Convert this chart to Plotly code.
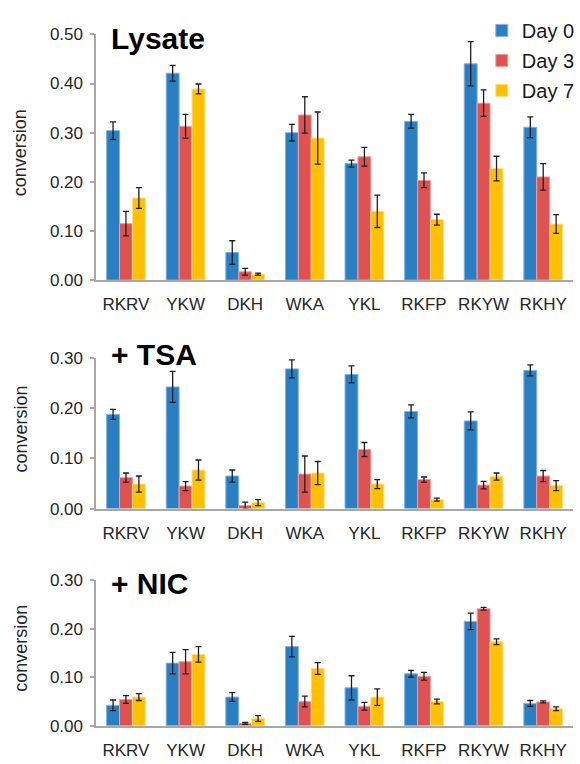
import plotly.graph_objects as go

categories = ["RKRV", "YKW", "DKH", "WKA", "YKL", "RKFP", "RKYW", "RKHY"]
days = ["Day 0", "Day 3", "Day 7"]
colors = ["#2a7ec2", "#e05252", "#ffc000"]
line_colors = ["#7fb6e3", "#f0a0a0", "#ffe080"]

# Lysate
lys_d0 = [0.304, 0.421, 0.056, 0.300, 0.237, 0.323, 0.440, 0.311]
lys_d0_err = [0.018, 0.016, 0.024, 0.017, 0.007, 0.014, 0.045, 0.021]
lys_d3 = [0.115, 0.313, 0.017, 0.336, 0.251, 0.203, 0.360, 0.210]
lys_d3_err = [0.025, 0.024, 0.007, 0.037, 0.019, 0.015, 0.027, 0.027]
lys_d7 = [0.167, 0.389, 0.012, 0.289, 0.140, 0.123, 0.227, 0.114]
lys_d7_err = [0.021, 0.010, 0.002, 0.053, 0.033, 0.011, 0.025, 0.019]

# + TSA
tsa_d0 = [0.188, 0.243, 0.065, 0.279, 0.268, 0.194, 0.175, 0.276]
tsa_d0_err = [0.010, 0.031, 0.012, 0.018, 0.017, 0.013, 0.018, 0.011]
tsa_d3 = [0.062, 0.045, 0.006, 0.069, 0.118, 0.058, 0.047, 0.065]
tsa_d3_err = [0.009, 0.009, 0.007, 0.036, 0.014, 0.005, 0.0075, 0.011]
tsa_d7 = [0.049, 0.077, 0.012, 0.071, 0.049, 0.018, 0.064, 0.046]
tsa_d7_err = [0.016, 0.020, 0.006, 0.023, 0.009, 0.003, 0.007, 0.010]

# + NIC
nic_d0 = [0.042, 0.129, 0.059, 0.163, 0.078, 0.107, 0.215, 0.046]
nic_d0_err = [0.011, 0.022, 0.009, 0.021, 0.025, 0.007, 0.017, 0.006]
nic_d3 = [0.054, 0.132, 0.005, 0.050, 0.040, 0.102, 0.241, 0.049]
nic_d3_err = [0.008, 0.025, 0.002, 0.011, 0.008, 0.008, 0.003, 0.002]
nic_d7 = [0.059, 0.147, 0.015, 0.118, 0.059, 0.050, 0.173, 0.035]
nic_d7_err = [0.007, 0.016, 0.006, 0.012, 0.017, 0.005, 0.006, 0.004]

panels = [
    ("Lysate", [lys_d0, lys_d3, lys_d7], [lys_d0_err, lys_d3_err, lys_d7_err], 0.5, [0, 0.1, 0.2, 0.3, 0.4, 0.5]),
    ("+ TSA", [tsa_d0, tsa_d3, tsa_d7], [tsa_d0_err, tsa_d3_err, tsa_d7_err], 0.3, [0, 0.1, 0.2, 0.3]),
    ("+ NIC", [nic_d0, nic_d3, nic_d7], [nic_d0_err, nic_d3_err, nic_d7_err], 0.3, [0, 0.1, 0.2, 0.3]),
]

W, H = 580, 764
# pixel positions (top, bottom) of each panel's plot area
panel_px = [(26, 278), (358.3, 512.3), (585.7, 735)]
x_left, x_right = 97, 578

FONT = "Liberation Sans, Arial, sans-serif"
AXIS_COLOR = "#a8a8a8"

fig = go.Figure()
layout = dict(
    width=W, height=H,
    margin=dict(l=0, r=0, t=0, b=0),
    paper_bgcolor="white", plot_bgcolor="white",
    barmode="group", bargap=0.35, bargroupgap=0,
    font=dict(family=FONT, color="#262626"),
    showlegend=True,
    legend=dict(
        x=486 / W, y=1 - 2 / H, xanchor="left", yanchor="top",
        font=dict(size=20, family=FONT, color="#1a1a1a"),
        bgcolor="rgba(0,0,0,0)", traceorder="grouped", tracegroupgap=1,
        itemwidth=30,
    ),
)
annotations = []

for i, (title, series, errs, ymax, ticks) in enumerate(panels):
    n = "" if i == 0 else str(i + 1)
    top, bot = panel_px[i]
    for j in range(3):
        fig.add_trace(go.Bar(
            x=categories, y=series[j], name=days[j],
            marker=dict(color=colors[j], line=dict(color=line_colors[j], width=1)),
            error_y=dict(type="data", array=errs[j], visible=True,
                         color="#1e1e1e", thickness=1.3, width=3),
            xaxis="x" + n, yaxis="y" + n,
            legendgroup=days[j], showlegend=(i == 0),
        ))
    layout["xaxis" + n] = dict(
        domain=[x_left / W, x_right / W], anchor="y" + n,
        showline=True, linecolor=AXIS_COLOR, linewidth=1.5,
        ticks="", showgrid=False, zeroline=False,
        tickfont=dict(size=17, family=FONT, color="#262626"),
        ticklabelstandoff=8,
    )
    layout["yaxis" + n] = dict(
        domain=[1 - bot / H, 1 - top / H], anchor="x" + n,
        range=[0, ymax], tickvals=ticks, tickformat=".2f",
        showline=True, linecolor=AXIS_COLOR, linewidth=1.5,
        ticks="outside", ticklen=4, tickcolor=AXIS_COLOR, tickwidth=1.5,
        showgrid=False, zeroline=False,
        tickfont=dict(size=17, family=FONT, color="#262626"),
        ticklabelstandoff=4,
    )
    annotations.append(dict(
        text="conversion", textangle=-90, xref="paper", yref="paper",
        x=21 / W, y=1 - ((top + bot) / 2 - 5) / H, showarrow=False,
        font=dict(size=18, family=FONT, color="#262626"),
        xanchor="center", yanchor="middle",
    ))
    title_y = [30, 354, 589][i]
    annotations.append(dict(
        text="<b>%s</b>" % title, xref="paper", yref="paper",
        x=110 / W, y=1 - title_y / H, showarrow=False,
        font=dict(size=30, family=FONT, color="black"),
        xanchor="left", yanchor="middle",
    ))

layout["annotations"] = annotations
fig.update_layout(**layout)
fig.write_html("out.html", config={"displayModeBar": False})

# remove the default page margin so the figure sits at the window's top-left
with open("out.html", "r", encoding="utf-8") as f:
    html = f.read()
html = html.replace("<head>", "<head><style>html,body{margin:0;padding:0;overflow:hidden}</style>", 1)
with open("out.html", "w", encoding="utf-8") as f:
    f.write(html)
